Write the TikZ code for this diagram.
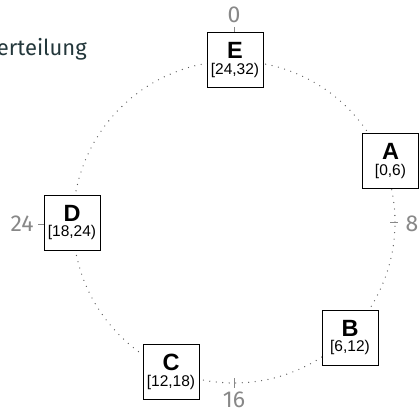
\documentclass[tikz,border=0pt]{standalone}
\usepackage{fontspec}
\setmainfont{Liberation Sans}
\newfontfamily\fira{Fira Sans}
\definecolor{mteal}{HTML}{23373B}
\definecolor{tickgray}{HTML}{888888}
\definecolor{ringgray}{HTML}{5A5A5A}
\begin{document}
\begin{tikzpicture}[x=1pt,y=1pt,
  server/.style={draw=black, line width=0.9pt, fill=white, minimum width=56pt, minimum height=55pt, inner sep=0pt},
  srvletter/.style={anchor=base, inner sep=0pt, font=\fontsize{23.5}{23.5}\selectfont\bfseries},
  srvrange/.style={anchor=base, inner sep=0pt, font=\fontsize{15.5}{15.5}\selectfont},
  ticklabel/.style={text=tickgray, font=\fira\fontsize{23}{23}\selectfont, inner sep=0pt},
  tickline/.style={draw=tickgray, line width=0.8pt},
  ring/.style={draw=ringgray, line width=1.3pt, line cap=round, dash pattern=on 0pt off 6.5pt}]
\useasboundingbox (0,0) rectangle (420,-414);
\node[anchor=base east, inner sep=0pt, text=mteal, font=\fira\fontsize{22}{22}\selectfont] (title) at (87,-56) {Verteilung};
\coordinate (ctr) at (234,-222);
\draw[ring] (ctr) circle[radius=161];
% ticks
\node[ticklabel] (t0) at (234,-15) {0};
\node[ticklabel] (t8) at (412,-224) {8};
\node[ticklabel] (t16) at (234,-400) {16};
\node[ticklabel] (t24) at (22,-224) {24};
\coordinate (k0a) at (234,-27); \coordinate (k0b) at (234,-33);
\coordinate (k8a) at (390,-222); \coordinate (k8b) at (398,-222);
\coordinate (k16a) at (234,-378); \coordinate (k16b) at (234,-388);
\coordinate (k24a) at (38,-224); \coordinate (k24b) at (45,-224);
\draw[tickline] (k0a) -- (k0b);
\draw[tickline] (k8a) -- (k8b);
\draw[tickline] (k16a) -- (k16b);
\draw[tickline] (k24a) -- (k24b);
% servers
\node[server] (E) at (235,-60) {};
\node[server] (A) at (390.5,-161) {};
\node[server] (B) at (350,-337.5) {};
\node[server] (C) at (171,-372) {};
\node[server] (D) at (72,-222.5) {};
\foreach \n/\r in {E/{[24,32)}, A/{[0,6)}, B/{[6,12)}, C/{[12,18)}, D/{[18,24)}}{
  \node[srvletter, yshift=-26.5pt] (\n name) at (\n.north) {\n};
  \node[srvrange, yshift=-42pt] (\n rng) at (\n.north) {\r};
}
\end{tikzpicture}
\end{document}
